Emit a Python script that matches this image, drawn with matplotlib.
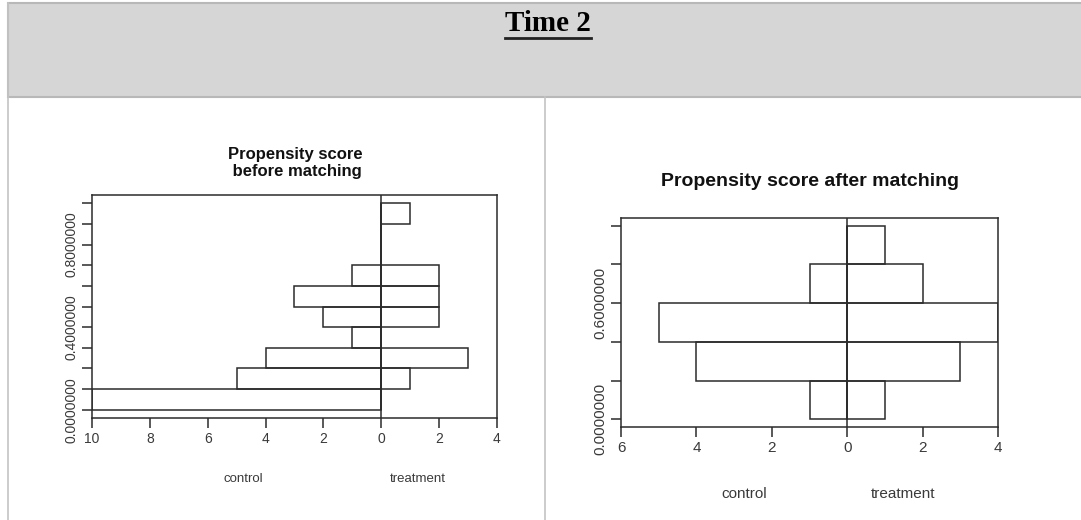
# Propensity score back-to-back histograms (Time 2)
import matplotlib
matplotlib.use("Agg")
import matplotlib.pyplot as plt
import numpy as np

# -----------------------------------------------------------
# DATOS
# -----------------------------------------------------------

# before matching: 10 bins, breaks 0.0 .. 1.0
antes_breaks = [0.0, 0.1, 0.2, 0.3, 0.4, 0.5, 0.6, 0.7, 0.8, 0.9, 1.0]
antes_control = [10, 5, 4, 1, 2, 3, 1, 0, 0, 0]
antes_treatment = [0, 1, 3, 0, 2, 2, 2, 0, 0, 1]
antes_ylabels = ["0.0000000", "", "", "", "0.4000000", "", "", "", "0.8000000", "", ""]
antes_xticks = [-10, -8, -6, -4, -2, 0, 2, 4]
antes_xlabels = ["10", "8", "6", "4", "2", "0", "2", "4"]

# after matching: 5 bins, breaks 0.0 .. 1.0
despues_breaks = [0.0, 0.2, 0.4, 0.6, 0.8, 1.0]
despues_control = [1, 4, 5, 1, 0]
despues_treatment = [1, 3, 4, 2, 1]
despues_ylabels = ["0.0000000", "", "", "0.6000000", "", ""]
despues_xticks = [-6, -4, -2, 0, 2, 4]
despues_xlabels = ["6", "4", "2", "0", "2", "4"]

# -----------------------------------------------------------
# FIGURA
# -----------------------------------------------------------

W, H = 1081, 520
fig = plt.figure(figsize=(W / 100, H / 100), dpi=100)
plt.rcParams["font.family"] = ["Liberation Sans", "DejaVu Sans"]

linea = "#2b2b2b"
texto = "#3a3a3a"


def px(x0, y0, x1, y1):
    # pixel box -> figure fraction
    return [x0 / W, 1 - y1 / H, (x1 - x0) / W, (y1 - y0) / H]


# table background
fondo = fig.add_axes([0, 0, 1, 1])
fondo.set_xlim(0, W)
fondo.set_ylim(H, 0)
fondo.axis("off")
fondo.add_patch(plt.Rectangle((8, 3), W, 94, facecolor="#d6d6d6",
                              edgecolor="#b8b8b8", linewidth=1.5))
fondo.plot([8, 8], [3, H], color="#c4c4c4", linewidth=1.2)
fondo.plot([545, 545], [97, H], color="#c4c4c4", linewidth=1.2)
fondo.text(548, 31, "Time 2", ha="center", va="baseline", fontsize=21,
           fontweight="bold", family="Liberation Serif", color="black")
fondo.plot([505, 591], [38, 38], color="#222222", linewidth=2)


def histbackback(rect, breaks, control, treatment, xticks, xlabels, ylabels,
                 fs_tick):
    ax = fig.add_axes(rect)
    breaks = np.array(breaks)
    ancho = np.diff(breaks)
    ax.barh(breaks[:-1], -np.array(control), height=ancho, align="edge",
            facecolor="none", edgecolor=linea, linewidth=1.1)
    ax.barh(breaks[:-1], treatment, height=ancho, align="edge",
            facecolor="none", edgecolor=linea, linewidth=1.1)
    ax.axvline(0, color=linea, linewidth=1.1)
    ax.set_xlim(xticks[0], xticks[-1])
    pad = 0.04 * (breaks[-1] - breaks[0])
    ax.set_ylim(breaks[0] - pad, breaks[-1] + pad)
    ax.set_xticks(xticks)
    ax.set_xticklabels(xlabels, fontsize=fs_tick, color=texto)
    ax.set_yticks(breaks)
    ax.set_yticklabels(ylabels, fontsize=fs_tick, color=texto, rotation=90,
                       va="center")
    ax.tick_params(length=7, width=1.1, color=linea, pad=3)
    for s in ax.spines.values():
        s.set_color(linea)
        s.set_linewidth(1.1)
    return ax


# left panel
histbackback(px(92, 195, 497, 418), antes_breaks, antes_control,
             antes_treatment, antes_xticks, antes_xlabels, antes_ylabels, 10)
fig.text(295 / W, 1 - 163 / H, "Propensity score\n before matching",
         ha="center", va="center", fontsize=12, fontweight="bold",
         color="#111111", linespacing=1.1)
fig.text(243 / W, 1 - 479 / H, "control", ha="center", va="center",
         fontsize=9.5, color=texto)
fig.text(418 / W, 1 - 479 / H, "treatment", ha="center", va="center",
         fontsize=9.5, color=texto)

# right panel
histbackback(px(621, 218, 998, 427), despues_breaks, despues_control,
             despues_treatment, despues_xticks, despues_xlabels,
             despues_ylabels, 11)
fig.text(810 / W, 1 - 181 / H, "Propensity score after matching",
         ha="center", va="center", fontsize=14, fontweight="bold",
         color="#111111")
fig.text(744 / W, 1 - 494 / H, "control", ha="center", va="center",
         fontsize=11, color=texto)
fig.text(903 / W, 1 - 494 / H, "treatment", ha="center", va="center",
         fontsize=11, color=texto)

fig.savefig("out.png", dpi=100)
